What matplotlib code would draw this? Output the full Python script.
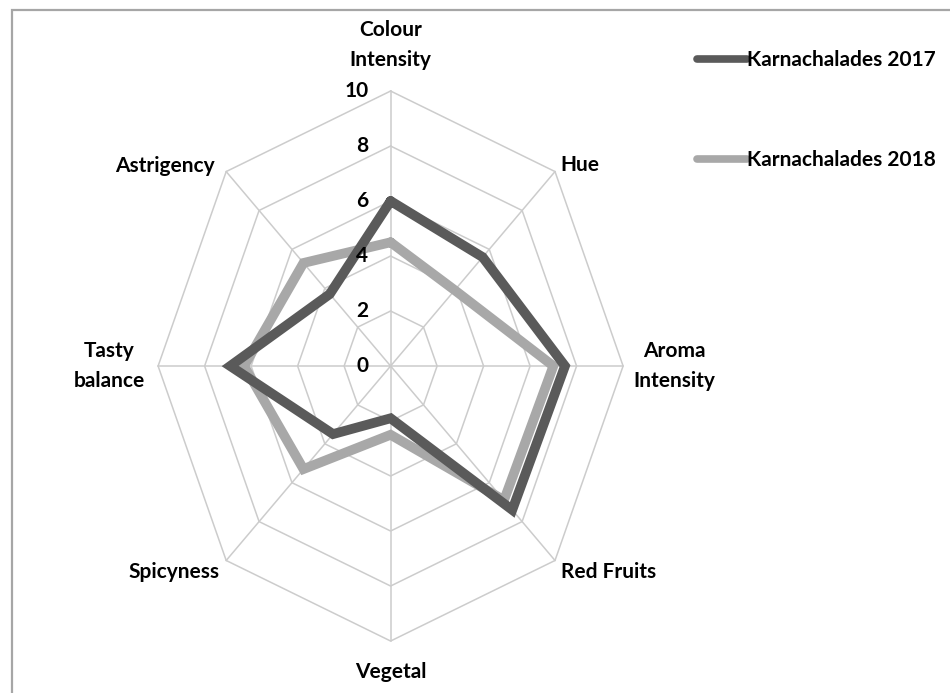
import numpy as np
import matplotlib.pyplot as plt
from matplotlib.patches import Rectangle

# radar data
categories = ['Colour\nIntensity', 'Hue', 'Aroma\nIntensity', 'Red Fruits',
              'Vegetal', 'Spicyness', 'Tasty\nbalance', 'Astrigency']
karna_2017 = [6.0, 5.6, 7.5, 7.4, 1.9, 3.5, 6.9, 3.7]
karna_2018 = [4.5, 3.9, 7.0, 6.9, 2.5, 5.3, 6.3, 5.3]
series_names = ['Karnachalades 2017', 'Karnachalades 2018']
ticks = [0, 2, 4, 6, 8, 10]

FONT = ['Lato', 'DejaVu Sans']
plt.rcParams['font.family'] = FONT

fig = plt.figure(figsize=(9.5, 6.93), dpi=100)
ax = fig.add_axes([0, 0, 1, 1])
ax.set_xlim(-16.80, 24.06)
ax.set_ylim(-11.89, 13.31)
ax.axis('off')

n = len(categories)
ang = np.arange(n) * 2 * np.pi / n
sx, sy = np.sin(ang), np.cos(ang)

def to_xy(vals):
    v = np.asarray(vals, dtype=float)
    return np.append(v * sx, v[0] * sx[0]), np.append(v * sy, v[0] * sy[0])

# octagon grid + spokes
grid_c = '#cccccc'
for t in ticks[1:]:
    gx, gy = to_xy([t] * n)
    ax.plot(gx, gy, color=grid_c, lw=1.1, zorder=1)
for k in range(n):
    ax.plot([0, ticks[-1] * sx[k]], [0, ticks[-1] * sy[k]], color=grid_c, lw=1.1, zorder=1)

# series
colors = ['#5a5a5a', '#a8a8a8']
for vals, name, c, z in zip([karna_2017, karna_2018], series_names, colors, [3, 2]):
    x, y = to_xy(vals)
    ax.plot(x, y, color=c, lw=7, solid_joinstyle='miter', solid_capstyle='round',
            label=name, zorder=z)

# tick labels left of vertical spoke
for t in ticks:
    ax.annotate(str(t), (0, t), xytext=(-16, 0), textcoords='offset points',
                ha='right', va='center', fontsize=15, fontweight='bold')

# category labels (offsets in points from the outer vertex)
offsets = [(0, 33), (4, 5), (37, 0), (4, -8), (0, -22), (-5, -8), (-35, 0), (-8, 4)]
aligns = ['center', 'left', 'center', 'left', 'center', 'right', 'center', 'right']
for k, lab in enumerate(categories):
    ax.annotate(lab, (ticks[-1] * sx[k], ticks[-1] * sy[k]), xytext=offsets[k],
                textcoords='offset points', ha=aligns[k], va='center',
                fontsize=15, fontweight='bold', linespacing=1.6)

leg = fig.legend(loc='upper left', bbox_to_anchor=(0.734, 0.928), frameon=False,
                 borderpad=0, borderaxespad=0, handlelength=2.4, handletextpad=0.0,
                 labelspacing=3.85, prop={'size': 15, 'weight': 'bold', 'family': FONT})
for h in leg.legend_handles:
    h.set_linewidth(5.5)

# outer border (only top and left edges show in the crop)
fig.add_artist(Rectangle((12 / 950, -0.02), 1.0, 1.02 - 10 / 693, transform=fig.transFigure,
                         fill=False, edgecolor='#a6a6a6', lw=1.6))

fig.savefig('out.png', dpi=100)
